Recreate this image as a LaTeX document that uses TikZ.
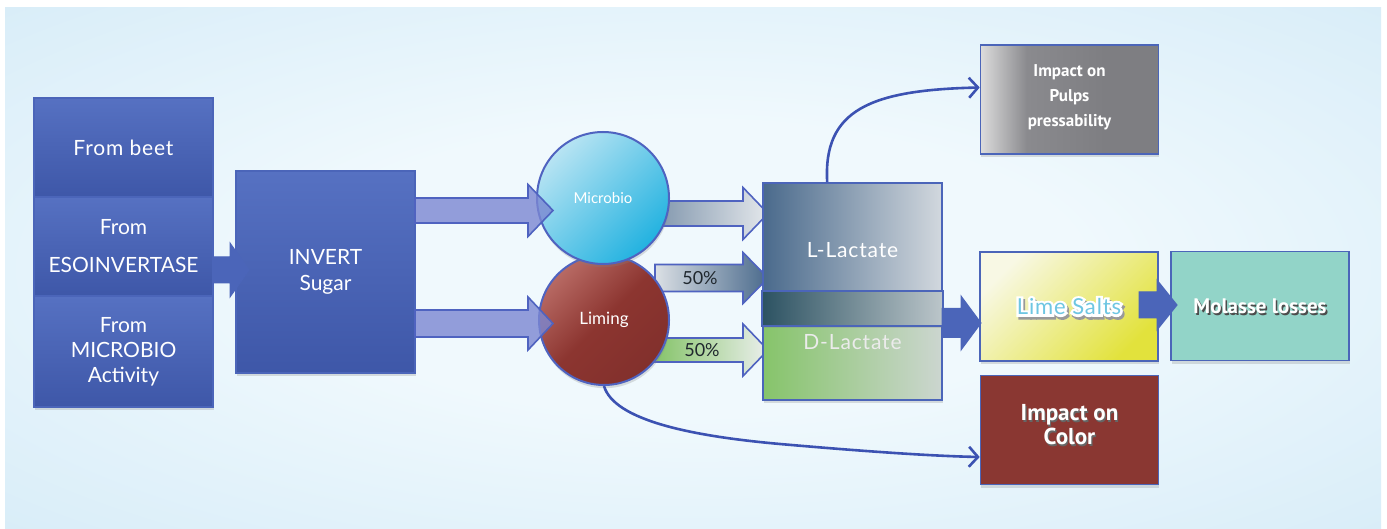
\documentclass[tikz,border=0pt]{standalone}
\usepackage{fontspec}
\setmainfont{Lato}
\newfontfamily\boldf{PT Sans}
\newfontfamily\glowf[FakeBold=22,LetterSpace=4]{Lato}
\newfontfamily\widef[LetterSpace=4]{Lato}
\usetikzlibrary{arrows.meta,shadows,calc}
\definecolor{bgin}{HTML}{F0F9FD}
\definecolor{bgout}{HTML}{C9E5F5}
\definecolor{boxtop}{HTML}{5671C2}
\definecolor{boxbot}{HTML}{3E57A8}
\definecolor{boxedge}{HTML}{4B65B9}
\definecolor{arrfill}{HTML}{7B87D2}
\definecolor{arredge}{HTML}{4F63C0}
\definecolor{conncol}{HTML}{3C52B2}
\definecolor{mictop}{HTML}{B8E4F3}
\definecolor{micbot}{HTML}{22B2E0}
\definecolor{limtop}{HTML}{B86A64}
\definecolor{limmid}{HTML}{8C3530}
\definecolor{limbot}{HTML}{82302C}
\definecolor{lleft}{HTML}{4A6A8C}
\definecolor{lright}{HTML}{D2D8DE}
\definecolor{bandleft}{HTML}{2C5262}
\definecolor{bandright}{HTML}{BCC6CA}
\definecolor{dleft}{HTML}{86C46A}
\definecolor{dright}{HTML}{CCD6D0}
\definecolor{ylw1}{HTML}{F8F8E4}
\definecolor{ylw2}{HTML}{E2E23C}
\definecolor{molfill}{HTML}{92D4C8}
\definecolor{colfill}{HTML}{8A3732}
\definecolor{pul1}{HTML}{DCDCDC}
\definecolor{pul2}{HTML}{8A8A8E}
\definecolor{pul3}{HTML}{7E7E82}
\definecolor{limeblue}{HTML}{6EC6E2}
\definecolor{pcttext}{HTML}{20282E}
\pgfdeclareradialshading{bgshade}{\pgfpoint{0bp}{0bp}}{color(0bp)=(bgin); color(14bp)=(bgin); color(50bp)=(bgout); color(75bp)=(bgout)}
\pgfdeclarehorizontalshading{pulsh}{100bp}{color(0bp)=(pul1); color(25bp)=(pul1); color(38bp)=(pul2); color(60bp)=(pul3); color(100bp)=(pul3)}
\newcommand\fatarr[7]{%
  \path[#1] (#2,#5-#6) -- (#3,#5-#6) -- (#3,#5-#7) -- (#4,#5) -- (#3,#5+#7) -- (#3,#5+#6) -- (#2,#5+#6) -- cycle;}
\tikzset{
  shd/.style={drop shadow={shadow xshift=0.4pt, shadow yshift=-1.6pt, opacity=0.25}},
  bluebox/.style={draw=boxedge, line width=0.6pt, top color=boxtop, bottom color=boxbot,
    minimum width=89.5pt, inner sep=0pt, text=white, align=center,
    font=\fontsize{10.5}{12.5}\selectfont, shd},
  rbox/.style={draw=boxedge, line width=0.8pt, minimum width=89pt, minimum height=54.5pt,
    inner sep=0pt, align=center, shd},
  circ/.style={circle, draw=arredge, line width=1pt, inner sep=0pt, text=white, shd},
  blockarr/.style={fill=boxedge, draw=boxedge, line width=0.5pt},
  softarr/.style={fill=arrfill, fill opacity=0.8, draw=arredge, line width=0.8pt},
  conn/.style={draw=conncol, line width=1.3pt, -{Straight Barb[length=4.5pt,width=10pt,line width=1.3pt]}},
  boldtxt/.style={font=\boldf\bfseries, align=center, inner sep=0pt},
}
\begin{document}
\begin{tikzpicture}[x=0.5pt,y=-0.5pt]
\useasboundingbox (0,0) rectangle (1387,529);
\fill[white] (0,0) rectangle (1387,529);
\shade[shading=bgshade] (5,8) rectangle (1381,529);

% left column
\node[bluebox, minimum height=49.5pt, font=\widef\fontsize{10.5}{12.5}\selectfont] (beet) at (123.5,147.5) {From beet};
\node[bluebox, minimum height=49.5pt, font=\fontsize{10.5}{19}\selectfont] (eso) at (123.5,246.5) {From\\ESOINVERTASE};
\node[bluebox, minimum height=55.5pt] (micr) at (123.5,351.5) {From\\MICROBIO\\Activity};
\node[bluebox, minimum height=101pt, font=\fontsize{10.5}{13}\selectfont] (inv) at (325.5,272) {INVERT\\Sugar};
\fatarr{blockarr}{213}{230}{249}{270}{13}{27}

% arrows from circles to lactate (behind circles)
\fatarr{draw=arredge, line width=0.8pt, left color=lright!40!lleft, right color=lright!60!white}{655}{743}{768}{213.5}{12.5}{26}
\fatarr{draw=arredge, line width=0.8pt, left color=lright!80!white, right color=lleft}{655}{743}{768}{278}{13.5}{25.5}
\fatarr{draw=arredge, line width=0.8pt, left color=dleft, right color=dright!40!white}{655}{743}{768}{350}{12}{26}

% circles
\node[circ, minimum size=65pt, top color=limtop, bottom color=limbot, middle color=limmid, shading angle=45,
      font=\fontsize{8.5}{9}\selectfont] (liming) at (604,320) {Liming};
\node[circ, minimum size=66pt, top color=mictop, bottom color=micbot, shading angle=45,
      font=\fontsize{7.5}{8}\selectfont] (microbio) at (603,198) {Microbio};

% arrows from invert sugar into circles
\fatarr{softarr}{415}{528}{553}{210.5}{12.5}{26}
\fatarr{softarr}{415}{528}{553}{323.5}{13.5}{26.5}

\node[font=\fontsize{9}{10}\selectfont, text=pcttext, inner sep=0pt] (p1) at (700,278) {50\%};
\node[font=\fontsize{9}{10}\selectfont, text=pcttext, inner sep=0pt] (p2) at (702,350) {50\%};

% lactate boxes
\node[rbox, minimum width=89.5pt, minimum height=54pt, left color=dleft, right color=dright] (dbox) at (852.5,346) {};
\node[rbox, minimum width=89.5pt, minimum height=71pt, left color=lleft, right color=lright] (lbox) at (852.5,254) {};
\path[draw=boxedge, line width=0.8pt, left color=bandleft, right color=bandright] (dbox.north west) rectangle (lbox.south east);
\node[text=white, font=\widef\fontsize{10.5}{12}\selectfont, inner sep=0pt] (ltxt) at (852.5,250) {L-Lactate};
\node[text=white!92!black, font=\widef\fontsize{10.5}{12}\selectfont, inner sep=0pt] (dtxt) at (852.5,342) {D-Lactate};

% right boxes
\node[rbox, top color=ylw1, bottom color=ylw2, shading angle=45] (limes) at (1069,306.5) {};
\node[rbox, fill=molfill] (molasse) at (1260,306) {};
\node[rbox, fill=colfill] (color) at (1069.5,430) {};
\node[rbox, shading=pulsh] (pulps) at (1069.5,99.5) {};

\fatarr{blockarr}{942}{961}{981}{323}{14.5}{27}
\fatarr{blockarr}{1139}{1157}{1177}{305}{13}{25}

% Lime Salts glow text
\node[text=black!40, font=\glowf\fontsize{11}{12}\selectfont, inner sep=0pt, xshift=0.9pt, yshift=-1.4pt] (lsa) at (limes.center) {Lime Salts};
\node[text=white, font=\glowf\fontsize{11}{12}\selectfont, inner sep=0pt] (lsb) at (limes.center) {Lime Salts};
\node[text=limeblue, font=\widef\fontsize{11}{12}\selectfont, inner sep=0pt] (lstxt) at (limes.center) {Lime Salts};

% Molasse losses
\node[boldtxt, text=black!70, font=\boldf\bfseries\fontsize{10.5}{11}\selectfont, xshift=0.8pt, yshift=-0.9pt] (mols) at (molasse.center) {Molasse losses};
\node[boldtxt, text=white, font=\boldf\bfseries\fontsize{10.5}{11}\selectfont] (molt) at (molasse.center) {Molasse losses};

% Impact on Color
\node[boldtxt, text=black!60, font=\boldf\bfseries\fontsize{11.5}{12}\selectfont, xshift=0.6pt, yshift=1.9pt] (cols) at (color.center) {Impact on\\Color};
\node[boldtxt, text=white, font=\boldf\bfseries\fontsize{11.5}{12}\selectfont, yshift=2.5pt] (colt) at (color.center) {Impact on\\Color};

% Pulps
\node[boldtxt, text=white, font=\boldf\bfseries\fontsize{8.5}{12.5}\selectfont, yshift=1.2pt] (pult) at (pulps.center) {Impact on\\Pulps\\pressability};

% curved connectors
\draw[conn] ($(lbox.north west)+(65,0)$) .. controls (823,110) and (870,90) .. ($(pulps.west)+(0,-12)$);
\draw[conn] (liming.south) .. controls (614,420) and (690,436) .. (780,444) .. controls (860,451) and (930,456) .. ($(color.west)+(0,27)$);
\end{tikzpicture}
\end{document}
